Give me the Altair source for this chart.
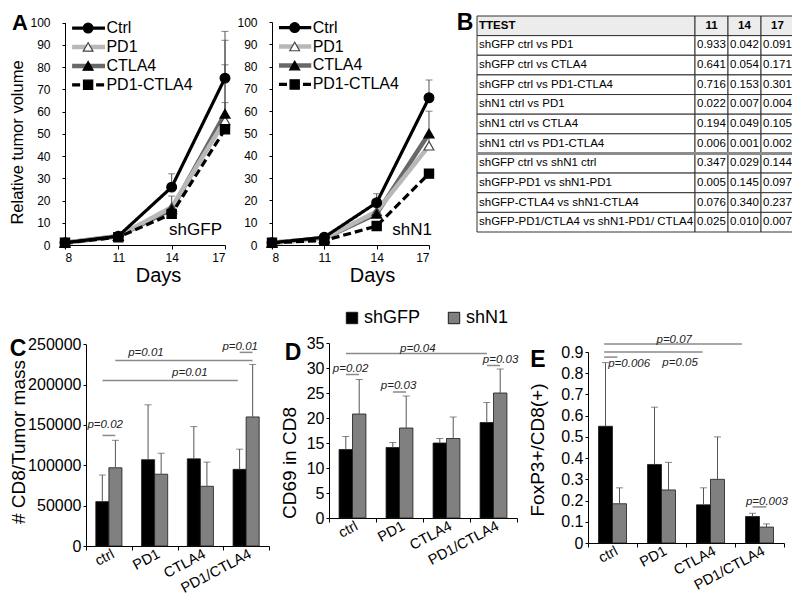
import altair as alt
import pandas as pd

FONT = "Liberation Sans"
W, H = 784, 585

# ---------------- Panel A data ----------------
days = [8, 11, 14, 17]
series = ["Ctrl", "PD1", "CTLA4", "PD1-CTLA4"]

gfp_ctrl = [1, 4, 26, 75]
gfp_pd1 = [1, 4, 17, 56]
gfp_ctla4 = [1, 4, 16, 59]
gfp_combo = [1, 3.5, 14, 52]
gfp_ctrl_top = [None, None, 32, 96]
gfp_pd1_top = [None, None, 22, 81]
gfp_ctla4_top = [None, None, None, 92]
gfp_combo_top = [None, None, None, 64]

n1_ctrl = [1, 3.5, 19, 66]
n1_pd1 = [1, 3, 15, 44.5]
n1_ctla4 = [1, 3, 14, 50]
n1_combo = [1, 2, 8.5, 32]
n1_ctrl_top = [None, None, 23, 74]
n1_pd1_top = [None, None, 17, 49]
n1_ctla4_top = [None, None, None, 60]
n1_combo_top = [None, None, None, None]

# ---------------- Panel B data ----------------
ttest_header = ["TTEST", "11", "14", "17"]
ttest_rows = [
    "shGFP ctrl vs PD1", "shGFP ctrl vs CTLA4", "shGFP ctrl vs PD1-CTLA4",
    "shN1 ctrl vs PD1", "shN1 ctrl vs CTLA4", "shN1 ctrl vs PD1-CTLA4",
    "shGFP ctrl vs shN1 ctrl", "shGFP-PD1 vs shN1-PD1", "shGFP-CTLA4 vs shN1-CTLA4",
    "shGFP-PD1/CTLA4 vs shN1-PD1/ CTLA4",
]
p_day11 = ["0.933", "0.641", "0.716", "0.022", "0.194", "0.006", "0.347", "0.005", "0.076", "0.025"]
p_day14 = ["0.042", "0.054", "0.153", "0.007", "0.049", "0.001", "0.029", "0.145", "0.340", "0.010"]
p_day17 = ["0.091", "0.171", "0.301", "0.004", "0.105", "0.002", "0.144", "0.097", "0.237", "0.007"]
col_widths = [218, 33, 33, 33]

# ---------------- Panels C, D, E data ----------------
cats = ["ctrl", "PD1", "CTLA4", "PD1/CTLA4"]
groups = ["shGFP", "shN1"]

cd8_gfp = [55000, 107000, 108000, 95000]
cd8_gfp_top = [88000, 175000, 148000, 120000]
cd8_n1 = [97000, 89000, 74000, 160000]
cd8_n1_top = [131000, 115000, 104000, 225000]

cd69_gfp = [13.7, 14.1, 15.0, 19.1]
cd69_gfp_top = [16.3, 15.1, 15.9, 23.1]
cd69_n1 = [20.8, 18.0, 15.9, 25.0]
cd69_n1_top = [27.7, 24.4, 20.2, 29.8]

fox_gfp = [0.55, 0.37, 0.18, 0.125]
fox_gfp_top = [0.85, 0.64, 0.26, 0.14]
fox_n1 = [0.185, 0.25, 0.30, 0.075]
fox_n1_top = [0.26, 0.38, 0.50, 0.09]

# significance annotations (category units: 0..4)
c_lines = [(0.36, 0.64, 137000), (0.64, 3.64, 230000), (0.36, 3.32, 205000), (3.36, 3.64, 240000)]
c_texts = [("p=0.02", 0.42, 150000), ("p=0.01", 1.31, 239000), ("p=0.01", 2.27, 214000), ("p=0.01", 3.37, 247000)]
d_lines = [(0.36, 3.36, 32.9), (0.36, 0.64, 28.7), (1.36, 1.64, 25.2), (3.36, 3.64, 30.5)]
d_texts = [("p=0.04", 1.89, 33.9), ("p=0.02", 0.46, 29.9), ("p=0.03", 1.48, 26.4), ("p=0.03", 3.65, 31.6)]
e_lines = [(0.33, 3.14, 0.938), (0.33, 2.34, 0.9), (0.33, 0.6, 0.876), (3.36, 3.64, 0.17)]
e_texts = [("p=0.07", 1.76, 0.957), ("p=0.006", 0.84, 0.844), ("p=0.05", 1.88, 0.849), ("p=0.003", 3.65, 0.193)]

STYLES = {
    "Ctrl": dict(color="#000000", width=3.2, dash=[1, 0], shape="circle", fill="#000000", stroke="#000000", size=95),
    "PD1": dict(color="#b8b8b8", width=4.5, dash=[1, 0], shape="triangle-up", fill="#ffffff", stroke="#444444", size=95),
    "CTLA4": dict(color="#686868", width=4.5, dash=[1, 0], shape="triangle-up", fill="#000000", stroke="#000000", size=100),
    "PD1-CTLA4": dict(color="#000000", width=3.2, dash=[8, 4], shape="square", fill="#000000", stroke="#000000", size=85),
}
LINE_ORDER = ["CTLA4", "PD1", "PD1-CTLA4", "Ctrl"]
POINT_ORDER = ["PD1", "CTLA4", "PD1-CTLA4", "Ctrl"]

AX_COMMON = dict(grid=False, domainColor="black", tickColor="black", labelColor="black",
                 titleColor="black", labelFont=FONT, titleFont=FONT, titleFontWeight="normal")


def line_panel(vals, tops, xr, yr, ytitle, title_cx, title_cy, days_x, tag, tag_x):
    xs = alt.Scale(domain=[8, 17], range=xr, nice=False, zero=False)
    ys = alt.Scale(domain=[0, 100], range=yr, nice=False, zero=False)
    yax_kw = dict(orient="left", offset=-xr[0], values=list(range(0, 101, 10)), tickSize=3,
                  labelPadding=12, labelFontSize=12, **AX_COMMON)
    if ytitle:
        yax_kw.update(title=ytitle, titleFontSize=16.5, titleX=title_cx - xr[0], titleY=title_cy,
                      titleAngle=-90, titleBaseline="middle", titleAlign="center")
    else:
        yax_kw.update(title=None)
    yax = alt.Axis(**yax_kw)
    xax = alt.Axis(orient="bottom", offset=yr[0] - H, values=days, tickSize=4, labelPadding=3,
                   labelFontSize=12, title="Days", titleFontSize=20, titleX=days_x, titleY=20,
                   titleBaseline="top", titleAlign="center", **AX_COMMON)

    def X(f):
        return alt.X(f, type="quantitative", scale=xs, axis=xax)

    def Y(f):
        return alt.Y(f, type="quantitative", scale=ys, axis=yax)

    layers = []
    for s in LINE_ORDER:
        st = STYLES[s]
        df = pd.DataFrame({"day": days, "value": vals[s]})
        layers.append(alt.Chart(df).mark_line(color=st["color"], strokeWidth=st["width"],
                                              strokeDash=st["dash"]).encode(X("day"), Y("value")))
    erows = [{"day": d, "value": v, "top": t} for s in series
             for d, v, t in zip(days, vals[s], tops[s]) if t is not None]
    edf = pd.DataFrame(erows)
    layers.append(alt.Chart(edf).mark_rule(color="#505050", strokeWidth=1).encode(
        X("day"), Y("value"), alt.Y2("top")))
    layers.append(alt.Chart(edf).mark_tick(orient="horizontal", size=7, thickness=1, color="#505050").encode(
        X("day"), Y("top")))
    for s in POINT_ORDER:
        st = STYLES[s]
        df = pd.DataFrame({"day": days, "value": vals[s]})
        layers.append(alt.Chart(df).mark_point(shape=st["shape"], fill=st["fill"], stroke=st["stroke"],
                                               size=st["size"], opacity=1, fillOpacity=1,
                                               strokeWidth=1.2).encode(X("day"), Y("value")))
    # in-plot legend (data units)
    for i, s in enumerate(series):
        st = STYLES[s]
        ly = 97.5 - 8.5 * i
        ldf = pd.DataFrame({"x0": [8.4], "x1": [10.25], "xm": [9.3], "xt": [10.33], "y": [ly], "t": [s]})
        layers.append(alt.Chart(ldf).mark_rule(color=st["color"], strokeWidth=st["width"],
                                               strokeDash=st["dash"]).encode(X("x0"), alt.X2("x1"), Y("y")))
        layers.append(alt.Chart(ldf).mark_point(shape=st["shape"], fill=st["fill"], stroke=st["stroke"],
                                                size=st["size"], opacity=1, fillOpacity=1,
                                                strokeWidth=1.2).encode(X("xm"), Y("y")))
        layers.append(alt.Chart(ldf).mark_text(align="left", baseline="middle", fontSize=16, font=FONT,
                                               color="black").encode(X("xt"), Y("y"), text="t:N"))
    tdf = pd.DataFrame({"x": [tag_x], "y": [6.7], "t": [tag]})
    layers.append(alt.Chart(tdf).mark_text(align="right", baseline="middle", fontSize=17, font=FONT,
                                           color="black").encode(X("x"), Y("y"), text="t:N"))
    return alt.layer(*layers)


def bar_panel(gfp, gfp_top, n1, n1_top, ydom, yvals, fmt, xr, yr, ytitle, title_cx, title_cy,
              lines, texts, legend):
    df = pd.DataFrame({"cat": cats * 2, "grp": ["shGFP"] * 4 + ["shN1"] * 4,
                       "value": gfp + n1, "top": gfp_top + n1_top})
    xs = alt.Scale(domain=cats, range=xr, paddingInner=0, paddingOuter=0)
    xos = alt.Scale(domain=groups, paddingInner=0, paddingOuter=0.75)
    ys = alt.Scale(domain=ydom, range=yr, nice=False, zero=True)
    xax = alt.Axis(orient="bottom", offset=yr[0] - H, tickBand="extent", labelAngle=-28,
                   labelAlign="right", labelBaseline="middle", labelFontSize=14.5, labelPadding=3,
                   labelOffset=4, tickSize=4, title=None, **AX_COMMON)
    yax = alt.Axis(orient="left", offset=-xr[0], values=yvals, format=fmt, tickSize=3,
                   labelPadding=2, labelFontSize=16, title=None, **AX_COMMON)
    X = alt.X("cat:N", scale=xs, axis=xax, sort=cats)
    XO = alt.XOffset("grp:N", scale=xos, sort=groups)
    color = alt.Color("grp:N", scale=alt.Scale(domain=groups, range=["#000000", "#808080"]),
                      legend=legend)
    bars = alt.Chart(df).mark_bar(stroke="#1a1a1a", strokeWidth=0.8).encode(
        X, XO, alt.Y("value:Q", scale=ys, axis=yax), color)
    errs = alt.Chart(df).mark_rule(color="#555555", strokeWidth=1).encode(
        X, XO, alt.Y("value:Q", scale=ys, axis=yax), alt.Y2("top:Q"))
    caps = alt.Chart(df).mark_tick(orient="horizontal", size=7, thickness=1, color="#555555").encode(
        X, XO, alt.Y("top:Q", scale=ys, axis=yax))
    main = alt.layer(bars, errs, caps)

    axs = alt.Scale(domain=[0, 4], range=xr, nice=False, zero=False)
    ldf = pd.DataFrame(lines, columns=["x1", "x2", "y"])
    tdf = pd.DataFrame(texts, columns=["t", "x", "y"])
    lr = alt.Chart(ldf).mark_rule(color="#8a8a8a", strokeWidth=1.5).encode(
        alt.X("x1:Q", scale=axs, axis=None), alt.X2("x2:Q"), alt.Y("y:Q", scale=ys, axis=yax))
    tx = alt.Chart(tdf).mark_text(fontSize=11.5, fontStyle="italic", font=FONT, color="#222222",
                                  align="center", baseline="middle").encode(
        alt.X("x:Q", scale=axs, axis=None), alt.Y("y:Q", scale=ys, axis=yax), text="t:N")
    ttl = alt.Chart(alt.Data(values=[{}])).mark_text(
        angle=270, fontSize=19, font=FONT, color="#000000", align="center", baseline="middle").encode(
        x=alt.value(title_cx), y=alt.value(title_cy), text=alt.value(ytitle))
    return alt.layer(main, lr, tx, ttl).resolve_scale(x="independent").resolve_axis(x="independent")


def table_panel():
    total = sum(col_widths)
    xs = alt.Scale(domain=[0, total], range=[469, 786], nice=False, zero=False)
    ys = alt.Scale(domain=[0, 11], range=[8, 224], nice=False, zero=False)
    edges = [0]
    for w in col_widths:
        edges.append(edges[-1] + w)
    cells, texts = [], []
    body = [ttest_rows, p_day11, p_day14, p_day17]
    for r in range(11):
        for c in range(4):
            cells.append({"x0": edges[c], "x1": edges[c + 1], "r0": r, "r1": r + 1,
                          "head": "h" if r == 0 else "b"})
            if r == 0:
                txt = ttest_header[c]
                xt = edges[c] + 2 if c == 0 else (edges[c] + edges[c + 1]) / 2
                al = "left" if c == 0 else "center"
            else:
                txt = body[c][r - 1]
                xt = edges[c] + 2
                al = "left"
            texts.append({"x": xt, "y": r + 0.5, "t": txt, "al": al, "head": "h" if r == 0 else "b"})
    cdf = pd.DataFrame(cells)
    tdf = pd.DataFrame(texts)
    rects = alt.Chart(cdf).mark_rect(stroke="#333333", strokeWidth=1).encode(
        alt.X("x0:Q", scale=xs, axis=None), alt.X2("x1:Q"),
        alt.Y("r0:Q", scale=ys, axis=None), alt.Y2("r1:Q"),
        fill=alt.Fill("head:N", scale=alt.Scale(domain=["h", "b"], range=["#ececec", "#ffffff"]), legend=None))
    sep = alt.Chart(pd.DataFrame({"x0": [0], "x1": [total], "y": [7]})).mark_rule(
        color="#8c8c8c", strokeWidth=3).encode(
        alt.X("x0:Q", scale=xs, axis=None), alt.X2("x1:Q"), alt.Y("y:Q", scale=ys, axis=None))
    layers = [rects, sep]
    for head, weight in (("h", "bold"), ("b", "normal")):
        for al in ("left", "center"):
            sub = tdf[(tdf["head"] == head) & (tdf["al"] == al)]
            if len(sub) == 0:
                continue
            layers.append(alt.Chart(sub).mark_text(align=al, baseline="middle", fontSize=11.5,
                                                   font=FONT, fontWeight=weight, color="black").encode(
                alt.X("x:Q", scale=xs, axis=None), alt.Y("y:Q", scale=ys, axis=None), text="t:N"))
    return alt.layer(*layers)


def letter(ch, x, y, fs=23):
    return alt.Chart(alt.Data(values=[{}])).mark_text(
        fontSize=fs, fontWeight="bold", font=FONT, align="center", baseline="alphabetic",
        color="black").encode(x=alt.value(x), y=alt.value(y), text=alt.value(ch))


gfp_vals = {"Ctrl": gfp_ctrl, "PD1": gfp_pd1, "CTLA4": gfp_ctla4, "PD1-CTLA4": gfp_combo}
gfp_tops = {"Ctrl": gfp_ctrl_top, "PD1": gfp_pd1_top, "CTLA4": gfp_ctla4_top, "PD1-CTLA4": gfp_combo_top}
n1_vals = {"Ctrl": n1_ctrl, "PD1": n1_pd1, "CTLA4": n1_ctla4, "PD1-CTLA4": n1_combo}
n1_tops = {"Ctrl": n1_ctrl_top, "PD1": n1_pd1_top, "CTLA4": n1_ctla4_top, "PD1-CTLA4": n1_combo_top}

panel_a1 = line_panel(gfp_vals, gfp_tops, [57, 217], [237, 14.5], "Relative tumor volume",
                      9, 134, 150, "shGFP", 16.83)
panel_a2 = line_panel(n1_vals, n1_tops, [264, 421], [237, 14], None, 0, 0, 364, "shN1", 17.17)
panel_b = table_panel()

legend_c = alt.Legend(orient="none", legendX=335, legendY=301, direction="horizontal", title=None,
                      symbolType="square", symbolSize=130, symbolStrokeColor="#1a1a1a",
                      symbolStrokeWidth=1, labelFontSize=18, labelFont=FONT, labelColor="black",
                      columnPadding=24, labelOffset=3, padding=0)
panel_c = bar_panel(cd8_gfp, cd8_gfp_top, cd8_n1, cd8_n1_top, [0, 250000],
                    list(range(0, 250001, 50000)), "d", [78, 261], [538, 336.3],
                    "# CD8/Tumor mass", 11, 434, c_lines, c_texts, legend_c)
panel_d = bar_panel(cd69_gfp, cd69_gfp_top, cd69_n1, cd69_n1_top, [0, 35],
                    list(range(0, 36, 5)), "d", [321, 509], [510, 335],
                    "CD69 in CD8", 282, 455, d_lines, d_texts, None)
panel_e = bar_panel(fox_gfp, fox_gfp_top, fox_n1, fox_n1_top, [0, 0.9],
                    [0, 0.1, 0.2, 0.3, 0.4, 0.5, 0.6, 0.7, 0.8, 0.9], "~g", [580, 776], [535, 344],
                    "FoxP3+/CD8(+)", 530, 442, e_lines, e_texts, None)

chart = alt.layer(
    panel_a1, panel_a2, panel_b, panel_c, panel_d, panel_e,
    letter("A", 12, 22, 22), letter("B", 457, 22), letter("C", 10, 348),
    letter("D", 285, 352), letter("E", 530, 359),
).resolve_scale(
    x="independent", y="independent", color="independent", xOffset="independent", fill="independent"
).resolve_axis(
    x="independent", y="independent"
).properties(
    width=W, height=H, autosize=alt.AutoSizeParams(type="none"), padding=0
).configure_view(stroke=None).configure_text(font=FONT)

chart.save("out.html", embed_options={"renderer": "svg", "actions": False})
